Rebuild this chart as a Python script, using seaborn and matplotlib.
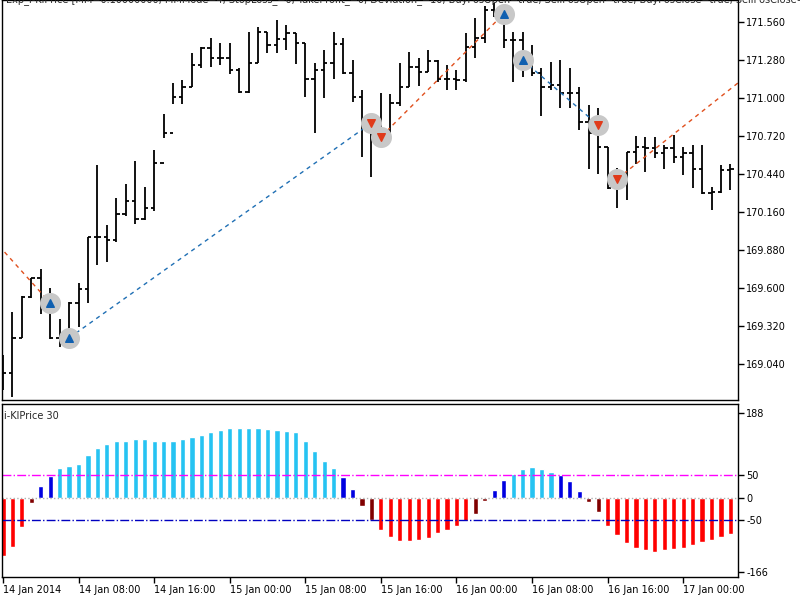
import numpy as np
import matplotlib
matplotlib.use("Agg")
import matplotlib.pyplot as plt
import seaborn as sns

# hourly bars, 14 Jan 2014 00:00 onwards
highs = [169.106, 169.423, 169.541, 169.674, 169.740, 169.600, 169.372, 169.497, 169.637, 169.976,
         170.507, 170.064, 170.263, 170.367, 170.536, 170.344, 170.617, 170.883, 171.111, 171.133,
         171.332, 171.376, 171.443, 171.406, 171.406, 171.222, 171.487, 171.524, 171.487, 171.575,
         171.538, 171.479, 171.406, 171.258, 171.354, 171.487, 171.443, 171.280, 171.059, 170.875,
         171.037, 171.030, 171.258, 171.339, 171.295, 171.354, 171.280, 171.244, 171.207, 171.479,
         171.590, 171.678, 171.700, 171.664, 171.487, 171.487, 171.391, 171.222, 171.266, 171.280,
         171.222, 171.081, 170.949, 170.927, 170.639, 170.484, 170.602, 170.720, 170.713, 170.713,
         170.654, 170.728, 170.639, 170.654, 170.654, 170.344, 170.507, 170.514]
lows = [168.848, 168.797, 169.232, 169.526, 169.409, 169.224, 169.165, 169.202, 169.313, 169.490,
        169.770, 169.792, 169.939, 170.131, 170.072, 170.101, 170.168, 170.706, 170.956, 170.956,
        171.081, 171.222, 171.229, 171.244, 171.177, 171.037, 171.037, 171.258, 171.332, 171.332,
        171.354, 171.251, 171.008, 170.742, 171.000, 171.141, 171.177, 170.971, 170.566, 170.418,
        170.669, 170.742, 170.941, 171.081, 171.089, 171.192, 171.118, 171.059, 171.059, 171.118,
        171.295, 171.406, 171.597, 171.369, 171.118, 171.155, 171.162, 170.868, 171.059, 170.927,
        170.927, 170.765, 170.477, 170.440, 170.330, 170.190, 170.249, 170.514, 170.455, 170.558,
        170.477, 170.521, 170.433, 170.337, 170.293, 170.175, 170.300, 170.322]
closes = [168.974, 169.232, 169.534, 169.674, 169.504, 169.232, 169.232, 169.490, 169.593, 169.976,
          169.976, 169.954, 170.146, 170.241, 170.109, 170.190, 170.521, 170.742, 171.008, 171.081,
          171.244, 171.369, 171.295, 171.295, 171.207, 171.045, 171.258, 171.487, 171.391, 171.435,
          171.479, 171.406, 171.141, 171.207, 171.258, 171.399, 171.185, 171.008, 170.779, 170.816,
          170.713, 170.964, 171.081, 171.229, 171.192, 171.273, 171.140, 171.140, 171.133, 171.376,
          171.443, 171.649, 171.627, 171.428, 171.428, 171.280, 171.185, 171.081, 171.096, 171.037,
          171.037, 170.824, 170.742, 170.639, 170.337, 170.403, 170.602, 170.639, 170.632, 170.595,
          170.632, 170.566, 170.595, 170.477, 170.300, 170.308, 170.470, 170.477]
first_open = 169.000

kl_price = [-129, -109, -65, -13, 25, 48, 65, 69, 74, 95, 109, 119, 124, 126, 129, 129, 126, 126,
            126, 129, 133, 138, 145, 150, 153, 154, 154, 154, 152, 150, 147, 145, 124, 103, 81, 65,
            45, 19, -19, -49, -71, -87, -97, -97, -94, -89, -79, -72, -63, -51, -37, -8, 17, 38,
            53, 62, 67, 62, 57, 49, 36, 15, -11, -32, -63, -84, -101, -111, -117, -120, -117, -115,
            -111, -106, -99, -94, -87, -81]

# deals: bar index, price, direction
deal_bars = [5, 7, 39, 40, 53, 55, 63, 65]
deal_prices = [169.490, 169.232, 170.816, 170.713, 171.620, 171.280, 170.801, 170.403]
deal_kind = ["buy", "buy", "sell", "sell", "buy", "buy", "sell", "sell"]
# trade lines: (x0, p0, x1, p1, colour)
trade_lines = [(-0.5, 169.917, 5, 169.490, "#e0501e"),
               (7, 169.232, 39, 170.816, "#1f6fb4"),
               (40, 170.713, 53, 171.620, "#e0501e"),
               (55, 171.280, 63, 170.801, "#1f6fb4"),
               (65, 170.403, 77.8, 171.111, "#e0501e")]

tick_pos = [0, 8, 16, 24, 32, 40, 48, 56, 64, 72]
tick_labels = ["14 Jan 2014", "14 Jan 08:00", "14 Jan 16:00", "15 Jan 00:00", "15 Jan 08:00",
               "15 Jan 16:00", "16 Jan 00:00", "16 Jan 08:00", "16 Jan 16:00", "17 Jan 00:00"]
price_ticks = [169.040, 169.320, 169.600, 169.880, 170.160, 170.440, 170.720, 171.000, 171.280, 171.560]
ind_ticks = [188, 50, 0, -50, -166]

sns.set_theme(style="white")
plt.rcParams["font.family"] = ["DejaVu Sans"]
FS = 7

W, H = 800, 600
fig = plt.figure(figsize=(8, 6), dpi=100)
ax1 = fig.add_axes([2 / W, 1 - 400 / H, 736 / W, 400 / H])
ax2 = fig.add_axes([2 / W, 1 - 577 / H, 736 / W, 173 / H])

n = len(closes)
x = np.arange(n)
opens = [first_open] + closes[:-1]

# OHLC bars
ax1.vlines(x, lows, highs, color="black", lw=1.3)
ax1.hlines(opens, x - 0.35, x, color="black", lw=1.3)
ax1.hlines(closes, x, x + 0.35, color="black", lw=1.3)

for x0, p0, x1, p1, c in trade_lines:
    ax1.plot([x0, x1], [p0, p1], ls=(0, (3, 3)), color=c, lw=1)

ax1.scatter(deal_bars, deal_prices, s=200, color="#c8c8c8", zorder=3)
for b, p, k in zip(deal_bars, deal_prices, deal_kind):
    if k == "buy":
        ax1.scatter([b], [p], marker="^", s=30, color="#1060b0", zorder=4)
    else:
        ax1.scatter([b], [p], marker="v", s=30, color="#e03a1a", zorder=4)

ax1.set_xlim(-0.1, 77.8)
ax1.set_ylim(168.775, 171.722)
ax1.yaxis.tick_right()
ax1.set_yticks(price_ticks)
ax1.set_yticklabels([f"{v:.3f}" for v in price_ticks])
ax1.set_xticks([])
ax1.tick_params(axis="y", length=4, width=1, direction="out", pad=2, right=True, colors="black",
                labelsize=FS)

# indicator histogram
cols = []
for v in kl_price:
    if v > 50:
        cols.append("#26c3f2")
    elif v >= 0:
        cols.append("#0000e0")
    elif v >= -50:
        cols.append("#800000")
    else:
        cols.append("#ff0000")
ax2.bar(x, kl_price, width=0.55, color=cols)
ax2.axhline(50, color="#ff00ff", ls="-.", lw=1)
ax2.axhline(-50, color="#0000c0", ls="-.", lw=1)
ax2.axhline(0, color="#b0b0b0", ls=":", lw=1)
ax2.set_xlim(-0.1, 77.8)
ax2.set_ylim(-176, 207)
ax2.yaxis.tick_right()
ax2.set_yticks(ind_ticks)
ax2.set_yticklabels([str(v) for v in ind_ticks])
ax2.set_xticks(tick_pos)
ax2.set_xticklabels(tick_labels, ha="left")
ax2.tick_params(axis="both", length=4, width=1, direction="out", pad=2, colors="black",
                right=True, bottom=True, labelsize=FS)
ax2.text(0.003, 0.96, "i-KlPrice 30", transform=ax2.transAxes, va="top", ha="left", fontsize=FS)

for ax in (ax1, ax2):
    for s in ax.spines.values():
        s.set_color("black")
        s.set_linewidth(1)

fig.text(6 / W, 1.0, "Exp_i-KlPrice [MM=0.10000000, MMMode=4, StopLoss_=0, TakeProfit_=0, "
         "Deviation_=10, BuyPosOpen=true, SellPosOpen=true, BuyPosClose=true, SellPosClose=true]",
         va="center", ha="left", fontsize=FS)

fig.savefig("out.png", dpi=100)
